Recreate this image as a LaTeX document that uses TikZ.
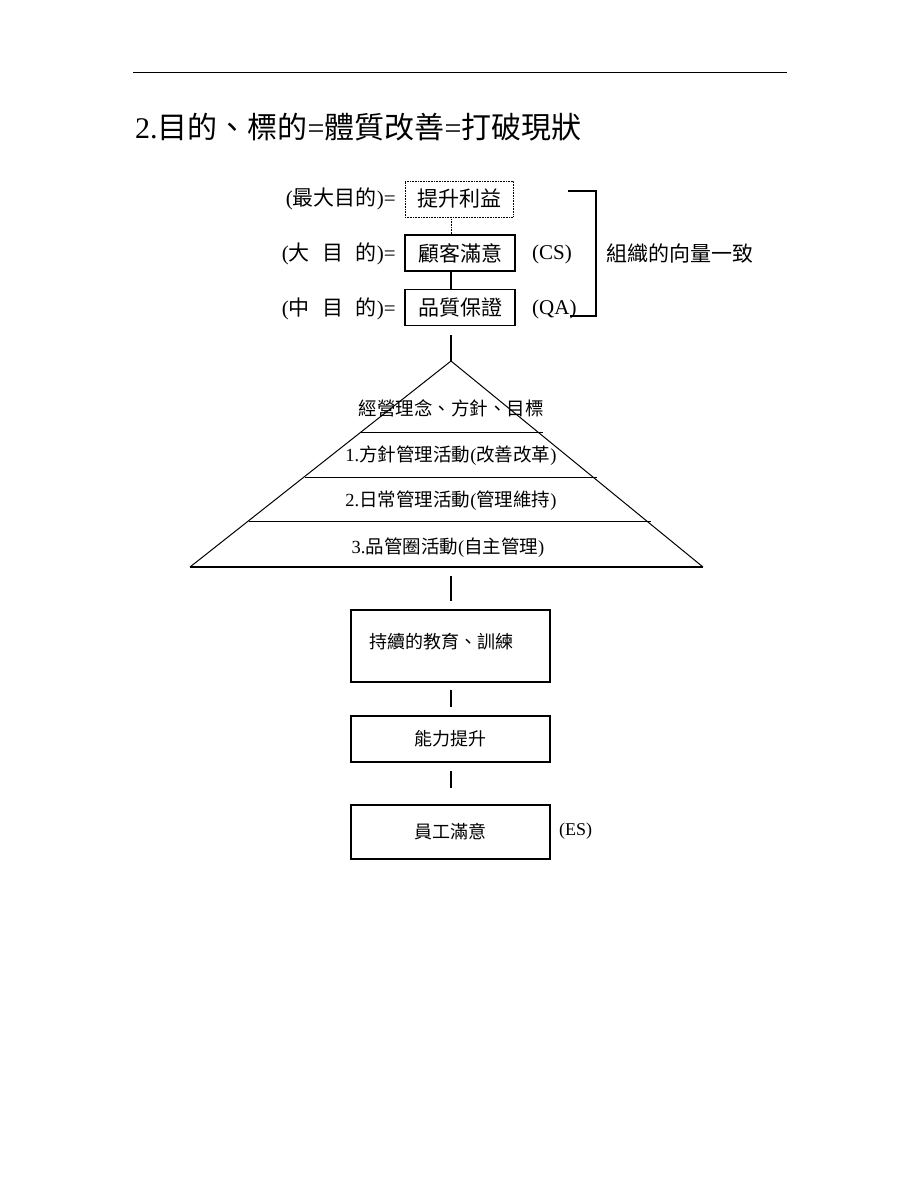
\documentclass[tikz,border=0pt]{standalone}
\usepackage{fontspec}
\setmainfont{Noto Sans CJK TC}
\newfontfamily\latnf{Liberation Serif}
\newcommand\latn[1]{{\latnf #1}}
\begin{document}
\begin{tikzpicture}[x=1pt,y=-1pt,
  box/.style={draw,line width=1.3pt,minimum width=110pt,minimum height=36pt,inner sep=0pt,font=\fontsize{21}{21}\selectfont},
  dbox/.style={draw,densely dotted,line width=0.6pt,minimum width=108pt,minimum height=36pt,inner sep=0pt,font=\fontsize{21}{21}\selectfont},
  lbox/.style={draw,line width=1.3pt,minimum width=199pt,inner sep=0pt,font=\fontsize{18}{18}\selectfont},
  lbl/.style={inner sep=0pt,font=\fontsize{21}{21}\selectfont},
  ptxt/.style={inner sep=0pt,font=\fontsize{18.5}{18.5}\selectfont},
  link/.style={line width=1.2pt},
  thin/.style={line width=1pt}]
\useasboundingbox[fill=white] (0,0) rectangle (920,1191);
% top rule
\coordinate (r1) at (133,72);
\coordinate (r2) at (787,72);
\draw[line width=1pt] (r1) -- (r2);
\node[anchor=west,inner sep=0pt,font=\fontsize{30}{30}\selectfont] (title) at (135,127) {\latn{2.}目的、標的\latn{=}體質改善\latn{=}打破現狀};
% top boxes
\node[dbox] (b1) at (459,199) {提升利益};
\node[box] (b2) at (460,253) {顧客滿意};
\node[box] (b3) at (460,307.5) {品質保證};
\draw[densely dotted,line width=0.6pt] (b1.south -| 451,0) -- (b2.north -| 451,0);
\draw[link] (b2.south -| 451,0) -- (b3.north -| 451,0);
\node[lbl,anchor=east] (l1) at (396,199) {\latn{(}最大目的\latn{)=}};
\node[lbl,anchor=east] (l2) at (396,254) {\latn{(}大\hspace{0.6em}目\hspace{0.6em}的\latn{)=}};
\node[lbl,anchor=east] (l3) at (396,309) {\latn{(}中\hspace{0.6em}目\hspace{0.6em}的\latn{)=}};
\node[lbl,anchor=west] (cs) at (532,254) {\latn{(CS)}};
\node[lbl,anchor=west] (qa) at (532,309) {\latn{(QA)}};
\coordinate (k1) at (568,191);
\coordinate (k2) at (596,191);
\coordinate (k3) at (596,316);
\coordinate (k4) at (570,316);
\draw[line width=1.3pt] (k1) -- (k2) -- (k3) -- (k4);
\node[lbl,anchor=west] (org) at (606,254) {組織的向量一致};
% pyramid
\coordinate (apex) at (451,361);
\coordinate (bl) at (190,567);
\coordinate (br) at (703,567);
\coordinate (top) at (451,335);
\draw[link] (top) -- (apex);
\draw[thin] (bl) -- (apex) -- (br);
\draw[line width=1.2pt] (bl) -- (br);
\coordinate (h1a) at (361,432); \coordinate (h1b) at (543,432);
\coordinate (h2a) at (305,477); \coordinate (h2b) at (597,477);
\coordinate (h3a) at (249,521); \coordinate (h3b) at (651,521);
\draw[thin] (h1a) -- (h1b);
\draw[thin] (h2a) -- (h2b);
\draw[thin] (h3a) -- (h3b);
\node[ptxt] (p0) at (451,408) {經營理念、方針、目標};
\node[ptxt] (p1) at (451,456) {\latn{1.}方針管理活動\latn{(}改善改革\latn{)}};
\node[ptxt] (p2) at (451,501) {\latn{2.}日常管理活動\latn{(}管理維持\latn{)}};
\node[ptxt] (p3) at (448,548) {\latn{3.}品管圈活動\latn{(}自主管理\latn{)}};
% lower boxes
\node[lbox,minimum height=72pt] (e1) at (450.5,646) {};
\node[anchor=west,inner sep=0pt,font=\fontsize{18}{18}\selectfont] (e1t) at (369,642) {持續的教育、訓練};
\node[lbox,minimum height=46pt] (e2) at (450.5,739) {能力提升};
\node[lbox,minimum height=54pt] (e3) at (450.5,832) {員工滿意};
\node[inner sep=0pt,anchor=west,font=\fontsize{18}{18}\selectfont] (es) at (559,831) {\latn{(ES)}};
\coordinate (c1) at (451,576);
\coordinate (c2) at (451,601);
\coordinate (c3) at (451,690);
\coordinate (c4) at (451,707);
\coordinate (c5) at (451,771);
\coordinate (c6) at (451,788);
\draw[link] (c1) -- (c2);
\draw[link] (c3) -- (c4);
\draw[link] (c5) -- (c6);
\end{tikzpicture}
\end{document}
